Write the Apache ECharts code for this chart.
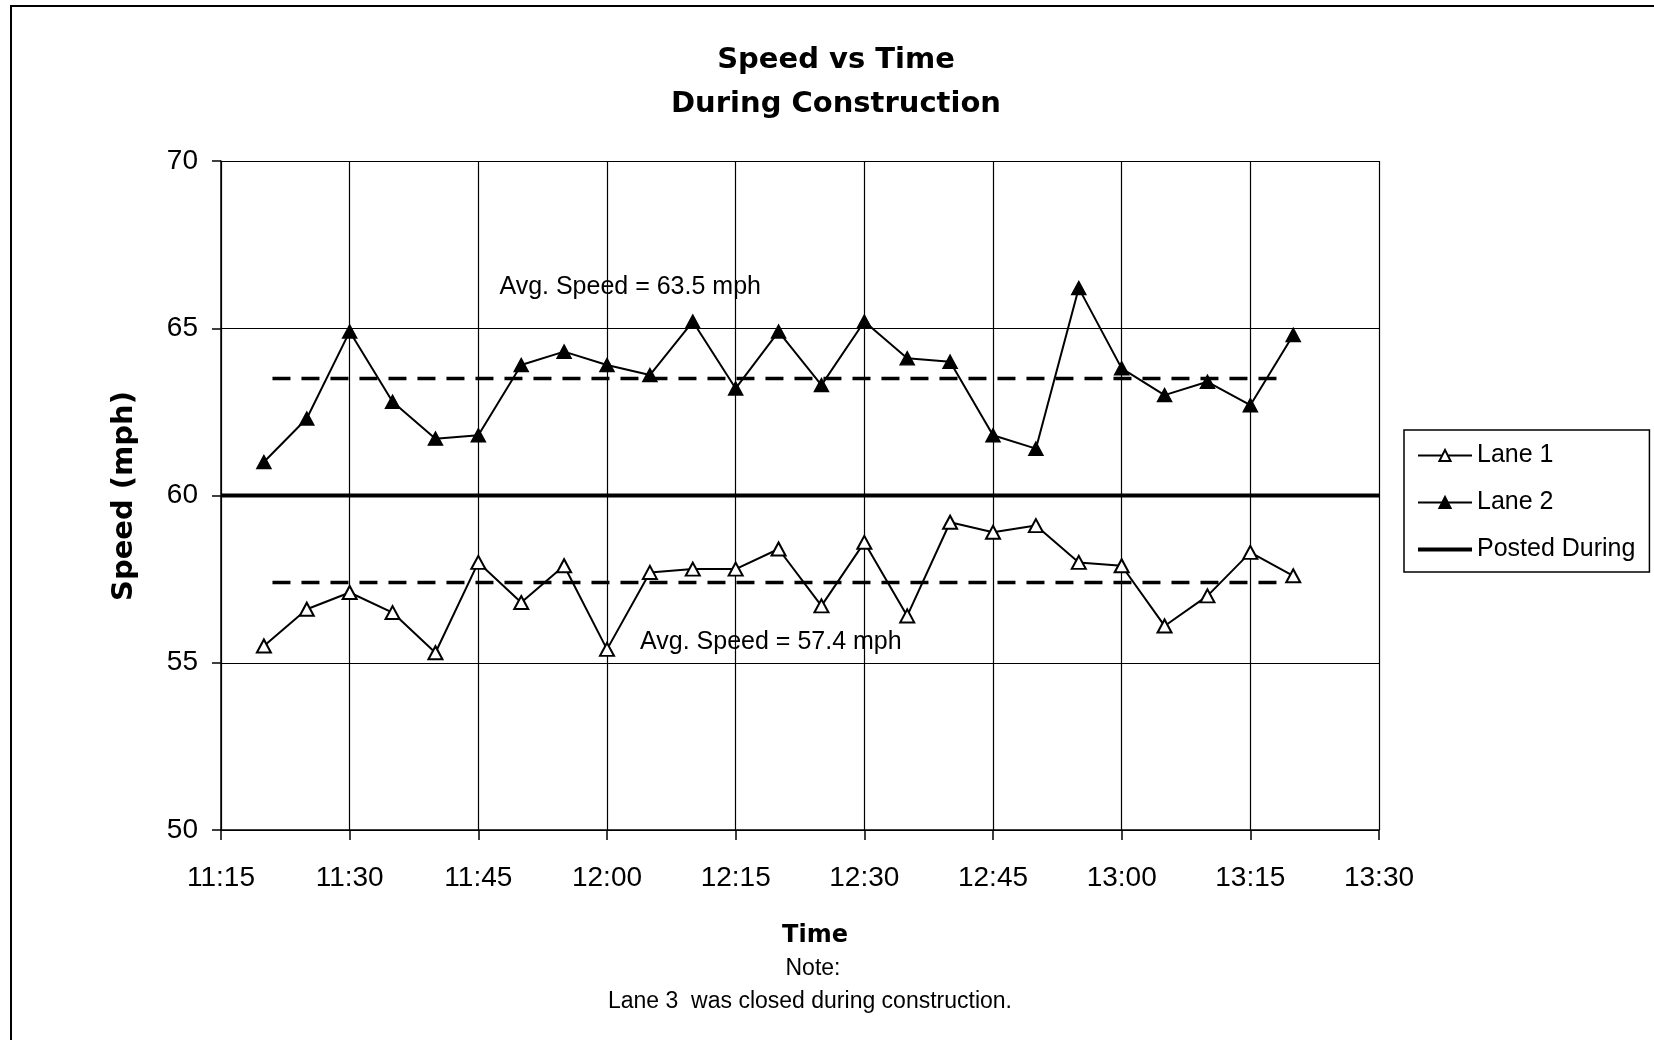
<!DOCTYPE html>
<html>
<head>
<meta charset="utf-8">
<script src="https://cdn.jsdelivr.net/npm/echarts@6/dist/echarts.min.js"></script>
<style>
  html, body { margin: 0; padding: 0; background: #fff; }
  #chart { width: 1654px; height: 1040px; }
</style>
</head>
<body>
<div id="chart"></div>
<script>
// Five-minute spot speed samples, 11:20 to 13:20
const sampleTimes = ['11:20', '11:25', '11:30', '11:35', '11:40', '11:45', '11:50', '11:55',
  '12:00', '12:05', '12:10', '12:15', '12:20', '12:25', '12:30', '12:35', '12:40', '12:45',
  '12:50', '12:55', '13:00', '13:05', '13:10', '13:15', '13:20'];
const lane1Speed = [55.5, 56.6, 57.1, 56.5, 55.3, 58.0, 56.8, 57.9, 55.4, 57.7, 57.8, 57.8,
  58.4, 56.7, 58.6, 56.4, 59.2, 58.9, 59.1, 58.0, 57.9, 56.1, 57.0, 58.3, 57.6];
const lane2Speed = [61.0, 62.3, 64.9, 62.8, 61.7, 61.8, 63.9, 64.3, 63.9, 63.6, 65.2, 63.2,
  64.9, 63.3, 65.2, 64.1, 64.0, 61.8, 61.4, 66.2, 63.8, 63.0, 63.4, 62.7, 64.8];

// Posted limit during construction and the lane averages
const postedSpeed = 60;
const postedSpan = ['11:15', '13:30'];
const lane1Avg = 57.4;
const lane2Avg = 63.5;
const avgSpan = ['11:21', '13:19'];

// Axis ticks
const timeTicks = ['11:15', '11:30', '11:45', '12:00', '12:15', '12:30', '12:45', '13:00', '13:15', '13:30'];
const speedTicks = [50, 55, 60, 65, 70];

const toMin = t => { const [h, m] = t.split(':').map(Number); return h * 60 + m; };
const fmtTime = v => Math.floor(v / 60) + ':' + String(Math.round(v % 60)).padStart(2, '0');

const SANS = '"Liberation Sans", Arial, sans-serif';
const BOLD = '"DejaVu Sans", sans-serif';

const lane1Data = sampleTimes.map((t, i) => [toMin(t), lane1Speed[i]]);
const lane2Data = sampleTimes.map((t, i) => [toMin(t), lane2Speed[i]]);
const postedData = postedSpan.map(t => [toMin(t), postedSpeed]);
const lane1AvgData = avgSpan.map(t => [toMin(t), lane1Avg]);
const lane2AvgData = avgSpan.map(t => [toMin(t), lane2Avg]);

const chart = echarts.init(document.getElementById('chart'), null, { renderer: 'canvas' });

function avgSeries(name, data, value, labelAt) {
  return {
    name: name,
    type: 'line',
    data: data,
    symbol: 'none',
    silent: true,
    z: 4,
    color: '#000',
    lineStyle: { color: '#000', width: 3.5, type: [18, 11] },
    markPoint: {
      silent: true,
      symbol: 'circle',
      symbolSize: 1,
      itemStyle: { color: 'rgba(0,0,0,0)' },
      label: {
        show: true,
        position: 'right',
        distance: 0,
        formatter: 'Avg. Speed = ' + value.toFixed(1) + ' mph',
        color: '#000',
        fontSize: 25,
        fontFamily: SANS
      },
      data: [{ coord: labelAt }]
    }
  };
}

function centered(text, x, y, font, rotation) {
  return {
    type: 'text', x: x, y: y, rotation: rotation || 0, silent: true,
    style: { text: text, font: font, fill: '#000',
      align: 'center', verticalAlign: 'middle', textAlign: 'center', textVerticalAlign: 'middle' }
  };
}

const option = {
  animation: false,
  backgroundColor: '#fff',
  grid: { left: 221, top: 161, right: 275, bottom: 210, containLabel: false },
  xAxis: {
    type: 'value',
    min: toMin(timeTicks[0]),
    max: toMin(timeTicks[timeTicks.length - 1]),
    interval: 15,
    axisLine: { show: true, onZero: false, lineStyle: { color: '#000', width: 1.5 } },
    axisTick: { show: true, length: 10, lineStyle: { color: '#000', width: 1.5 } },
    axisLabel: { color: '#000', fontSize: 28, fontFamily: SANS, margin: 34, formatter: v => fmtTime(v) },
    splitLine: { show: true, lineStyle: { color: '#000', width: 1.2 } }
  },
  yAxis: {
    type: 'value',
    min: speedTicks[0],
    max: speedTicks[speedTicks.length - 1],
    interval: speedTicks[1] - speedTicks[0],
    axisLine: { show: true, lineStyle: { color: '#000', width: 1.5 } },
    axisTick: { show: true, length: 9, lineStyle: { color: '#000', width: 1.5 } },
    axisLabel: { color: '#000', fontSize: 28, fontFamily: SANS, margin: 23 },
    splitLine: { show: true, lineStyle: { color: '#000', width: 1.2 } }
  },
  legend: {
    data: [
      'Lane 1',
      'Lane 2',
      { name: 'Posted During', itemStyle: { opacity: 0 }, lineStyle: { width: 4, color: '#000' } }
    ],
    orient: 'vertical',
    left: 1404,
    top: 430,
    itemWidth: 54,
    itemHeight: 14,
    itemGap: 22,
    padding: [13, 14, 10, 12],
    borderColor: '#000',
    borderWidth: 1.5,
    backgroundColor: '#fff',
    selectedMode: false,
    textStyle: { color: '#000', fontSize: 25, fontFamily: SANS }
  },
  series: [
    {
      name: 'Posted During',
      type: 'line',
      data: postedData,
      symbol: 'none',
      silent: true,
      z: 3,
      color: '#000',
      lineStyle: { color: '#000', width: 4 }
    },
    {
      name: 'Lane 1',
      type: 'line',
      data: lane1Data,
      symbol: 'triangle',
      symbolSize: [14, 13],
      z: 6,
      color: '#000',
      lineStyle: { color: '#000', width: 2 },
      itemStyle: { color: '#fff', borderColor: '#000', borderWidth: 2 }
    },
    {
      name: 'Lane 2',
      type: 'line',
      data: lane2Data,
      symbol: 'triangle',
      symbolSize: [14, 13],
      z: 6,
      color: '#000',
      lineStyle: { color: '#000', width: 2 },
      itemStyle: { color: '#000', borderColor: '#000', borderWidth: 1.5 }
    },
    avgSeries('Lane 1 average', lane1AvgData, lane1Avg, [723.8, 55.62]),
    avgSeries('Lane 2 average', lane2AvgData, lane2Avg, [707.4, 66.23])
  ],
  graphic: [
    {
      type: 'rect',
      silent: true,
      shape: { x: 11, y: 6, width: 1700, height: 1100 },
      style: { fill: 'none', stroke: '#000', lineWidth: 2 }
    },
    centered('Speed vs Time', 836, 60, 'bold 29px ' + BOLD),
    centered('During Construction', 836, 104, 'bold 29px ' + BOLD),
    centered('Speed (mph)', 124, 496, 'bold 29px ' + BOLD, Math.PI / 2),
    centered('Time', 815, 936, 'bold 24px ' + BOLD),
    centered('Note:', 813, 969, '23px ' + SANS),
    centered('Lane 3  was closed during construction.', 810, 1002, '23px ' + SANS)
  ]
};

chart.setOption(option);
</script>
</body>
</html>
